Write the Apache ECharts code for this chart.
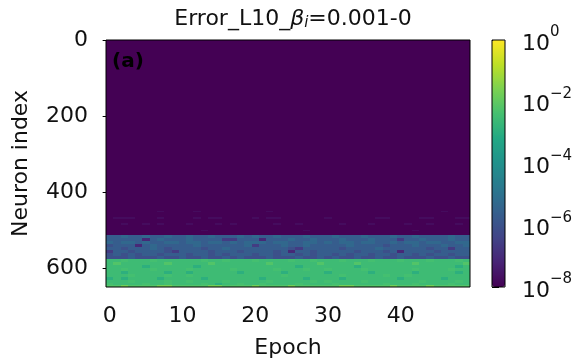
<!DOCTYPE html>
<html>
<head>
<meta charset="utf-8">
<script src="https://cdn.jsdelivr.net/npm/echarts@6/dist/echarts.min.js"></script>
<style>
html, body {margin: 0; padding: 0; background: #fff;}
#chart {width: 581px; height: 364px;}
</style>
</head>
<body>
<div id="chart"></div>
<script>
// epochs 0..49 on x, neurons 0..649 on y
var epochCount = 50;
var neuronCount = 650;
var xTicks = [0, 10, 20, 30, 40];
var yTicks = [0, 200, 400, 600];

// log10(error) for each code letter
var levels = {
    p: -8.0, q: -7.75,                                  // quiet rows / faint speckles
    a: -7.1, b: -6.6, c: -6.05, d: -5.65, e: -5.3,      // blue band
    h: -2.95, j: -2.55, i: -2.4, k: -2.2, l: -1.7       // green band
};

// row strips (first, last neuron) and one code per epoch for each strip;
// later strips are drawn over earlier ones
var stripRows = [
    [0, 511],
    [449, 451], [466, 470], [482, 485], [499, 502],
    [512, 519], [520, 527], [528, 535], [536, 543], [544, 551], [552, 559], [560, 567], [568, 575],
    [576, 583], [584, 591], [592, 599], [600, 607], [608, 615], [616, 623], [624, 631], [632, 639], [640, 645], [646, 649]
];
var stripCodes = [
    "pppppppppp pppppppppp pppppppppp pppppppppp pppppppppp",
    "pppppppqpp ppqppppppp ppqppppppp pppppppppp ppppppqppp",
    "pqqqpppqpp ppqpqqpppp qpqqpppppp qppppppqqp pppqqpppqq",
    "ppqppqpqpp pqpppqpqpp pppqppqppp ppqpppqppp pqppqpppqp",
    "pppppppppp pppqpppppp pppppppqpp pppppppppp ppqppppppp",
    "ddeddedded deddeddded eddedddedd dedddeddde ddeddddedd",
    "dddddadedd deddddbbdd dadddedded ddedddeddd bddedddedd",
    "edeededdee deedeedede eedeeddeed edeedeedde deedeeddee",
    "cdddadeddd ddedddddde bdddeddedd dddeddddcd ddedddedde",
    "ddcdddedcd dddcddeddd dddddcbddd ddcddddedd ddddcddbdd",
    "bddcddddcb ddddcdddcd dddcdaddcd ddddcdddcd addddcdddd",
    "cdcdcddcdd dcddcdcddd cddcddcdcd dcdcddcddc ddcdcddcdd",
    "cccdcccdcc dccdccdcdc ccdcccdccd cdccdccdcc dcccdccdcc",
    "jjijjjijjj jjjijjijjj ijjjjijjij jjijjjijjj ijjjijjjij",
    "jkjjjjjjkj jjjjkjjjjj jjkjjjjjjk jjjjkjjjjj jjkjjjjjjk",
    "jjjjjhjjjj jjhjjjjjjj jjjjjjhjjj jjjjhjjjjj jjjjjjjjhj",
    "jjijjjijjj jijjjjjijj jjjijjjijj ijjjjijjjj jjijjjjijj",
    "jjhjjjjjhj jhjjjjjjhj jjjjhjjjjj hjjjjjhjjj jjhjjjjjhj",
    "jjjijjjjij jijjjjjjjj jjjjijjjjj jjijjjjjij jijjjjjjjj",
    "hjhjjjjhjj jjjhjjjjjj jhjjjjjhjj jjhjjjjjjj hjjjjjhjjj",
    "jjjijjjjij jijjjjijjj jjijjjjjij ijjjjijjjj jjjijjjjij",
    "ijjjjijjij jjjijhjjij jijjjjijjj jijjjjjjij jjijjjjijj",
    "kklkkkkllk kkkkllkkkk lkkkklkkkk kkllkkkkkl kkkklkkkkk"
];

var viridis = ['#440154', '#482475', '#414487', '#355f8d', '#2a788e', '#21918c',
               '#22a884', '#44bf70', '#7ad151', '#bddf26', '#fde725'];

var font = 'DejaVu Sans';
var ink = '#111';

// one item per strip and epoch: [epoch, firstRow, lastRow, log10 value]
var cells = [];
stripRows.forEach(function (rows, s) {
    var codes = stripCodes[s].replace(/ /g, '');
    for (var ep = 0; ep < epochCount; ep++) {
        cells.push([ep, rows[0], rows[1], levels[codes.charAt(ep)]]);
    }
});

function renderCell(params, api) {
    var p0 = api.coord([api.value(0) - 0.5, api.value(1) - 0.5]);
    var p1 = api.coord([api.value(0) + 0.5, api.value(2) + 0.5]);
    var x0 = Math.round(p0[0]), x1 = Math.round(p1[0]);
    var y0 = Math.round(Math.min(p0[1], p1[1])), y1 = Math.round(Math.max(p0[1], p1[1]));
    if (x1 === x0 || y1 === y0) return null;
    return {
        type: 'rect',
        shape: {x: x0, y: y0, width: x1 - x0, height: y1 - y0},
        style: {fill: api.visual('color')}
    };
}

var chart = echarts.init(document.getElementById('chart'), null, {renderer: 'canvas'});
chart.setOption({
    animation: false,
    textStyle: {fontFamily: font},
    title: {
        text: '{n|Error_L10_}{g|β}{s|i}{n|=0.001-0}',
        left: 288, top: 3, textAlign: 'center',
        textStyle: {
            fontWeight: 'normal',
            rich: {
                n: {fontSize: 22, fontFamily: font, fontWeight: 'normal', color: ink},
                g: {fontSize: 22, fontFamily: font, fontWeight: 'normal', fontStyle: 'italic', color: ink},
                s: {fontSize: 15, fontFamily: font, fontWeight: 'normal', fontStyle: 'italic', color: ink,
                    verticalAlign: 'bottom', padding: [8, 0, 0, 0]}
            }
        }
    },
    grid: [
        {left: 106, top: 40, width: 364, height: 247, show: true, z: 10,
            borderColor: '#000', borderWidth: 1, backgroundColor: 'transparent'},
        {left: 492, top: 40, width: 13, height: 247, show: true, z: 10,
            borderColor: '#000', borderWidth: 1, backgroundColor: 'transparent'}
    ],
    xAxis: [
        {
            type: 'value', gridIndex: 0, min: -0.5, max: epochCount - 0.5,
            name: 'Epoch', nameLocation: 'middle', nameGap: 50,
            nameTextStyle: {fontSize: 22, color: ink, fontFamily: font},
            axisLine: {show: false},
            axisTick: {show: true, length: 7, customValues: xTicks, lineStyle: {color: '#000'}},
            axisLabel: {customValues: xTicks, fontSize: 22, color: ink, fontFamily: font, margin: 18},
            splitLine: {show: false}
        },
        {type: 'value', gridIndex: 1, show: false, min: 0, max: 1}
    ],
    yAxis: [
        {
            type: 'value', gridIndex: 0, inverse: true, min: -0.5, max: neuronCount - 0.5,
            name: 'Neuron index', nameLocation: 'middle', nameGap: 74,
            nameTextStyle: {fontSize: 22, color: ink, fontFamily: font},
            axisLine: {show: false},
            axisTick: {show: true, length: 7, customValues: yTicks, lineStyle: {color: '#000'}},
            axisLabel: {customValues: yTicks, fontSize: 22, color: ink, fontFamily: font, margin: 18},
            splitLine: {show: false}
        },
        {
            type: 'value', gridIndex: 1, position: 'right', min: -8, max: 0, interval: 2,
            axisLine: {show: false},
            axisTick: {show: true, length: 7, lineStyle: {color: '#000'}},
            axisLabel: {
                margin: 17,
                formatter: function (v) {
                    return '{b|10}{e|' + (v === 0 ? '0' : '\u2212' + (-v)) + '}';
                },
                rich: {
                    b: {fontSize: 22, fontFamily: font, color: ink, lineHeight: 30, verticalAlign: 'bottom'},
                    e: {fontSize: 15, fontFamily: font, color: ink, lineHeight: 30, verticalAlign: 'top'}
                }
            },
            splitLine: {show: false}
        }
    ],
    visualMap: {
        type: 'continuous', seriesIndex: 0, dimension: 3,
        min: -8, max: 0, calculable: false, orient: 'vertical',
        left: 492, top: 40, itemWidth: 13, itemHeight: 247, padding: 0,
        text: null, showLabel: false,
        inRange: {color: viridis}
    },
    graphic: [{
        type: 'text', left: 112, top: 52, z: 20,
        style: {text: '(a)', font: 'bold 20px "DejaVu Sans"', fill: '#000'}
    }],
    series: [{
        type: 'custom', xAxisIndex: 0, yAxisIndex: 0,
        renderItem: renderCell, encode: {x: 0, y: [1, 2]},
        clip: true, data: cells
    }]
});
</script>
</body>
</html>
